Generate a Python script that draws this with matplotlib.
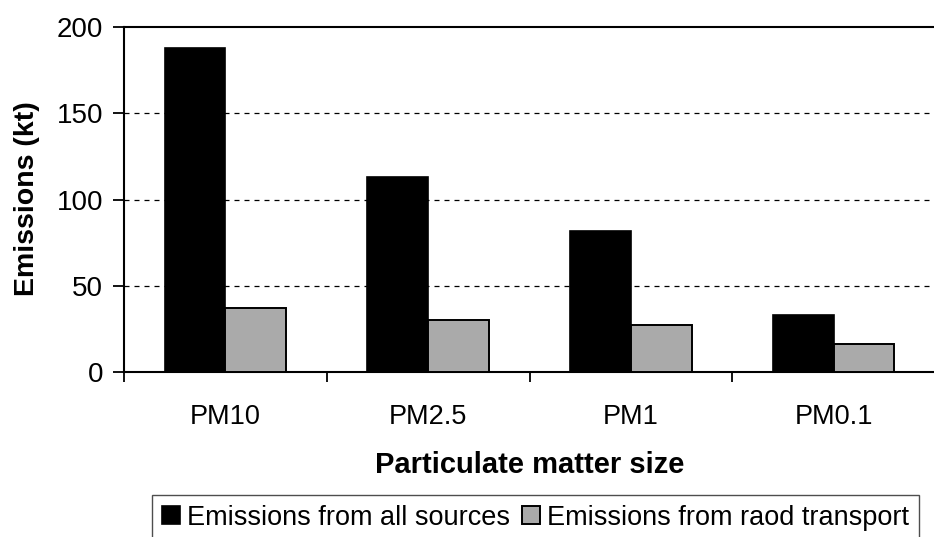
import matplotlib
matplotlib.use("Agg")
import matplotlib.pyplot as plt
import numpy as np

categories = ["PM10", "PM2.5", "PM1", "PM0.1"]
all_sources = [188, 113, 82, 33]
road_transport = [37, 30, 27, 16]
series_names = ["Emissions from all sources", "Emissions from raod transport"]
yticks = [0, 50, 100, 150, 200]

plt.rcParams['font.family'] = ['Liberation Sans', 'DejaVu Sans']

W, H = 934, 537
fig = plt.figure(figsize=(W / 100, H / 100), dpi=100)
ax = fig.add_axes([124 / W, 1 - 372 / H, (935 - 124) / W, (372 - 27) / H])

x = np.arange(len(categories))
w = 0.30
b1 = ax.bar(x - w/2, all_sources, w, color='black', edgecolor='black', linewidth=1.2,
            label=series_names[0], zorder=3)
b2 = ax.bar(x + w/2, road_transport, w, color='#aaaaaa', edgecolor='black', linewidth=1.4,
            label=series_names[1], zorder=3)

ax.set_xlim(-0.5, len(categories) - 0.5)
ax.set_ylim(0, 200)
ax.set_yticks(yticks)
ax.set_yticklabels([str(t) for t in yticks], fontsize=20)
ax.set_xticks(x)
ax.set_xticklabels(categories, fontsize=19.5)
ax.tick_params(axis='x', length=0, pad=23)
ax.set_xticks(np.arange(-0.5, len(categories) + 0.5, 1), minor=True)
ax.tick_params(axis='x', which='minor', length=7, width=1.3, direction='out')
ax.tick_params(axis='y', length=8, width=1.3, direction='out', pad=7)

for v in [50, 100, 150]:
    ax.axhline(v, color='black', linestyle=(0, (4, 4)), linewidth=0.9, zorder=1)

for s in ['left', 'bottom', 'top']:
    ax.spines[s].set_linewidth(1.5)
ax.spines['right'].set_visible(False)

fig.text(27.5 / W, 1 - 198.5 / H, "Emissions (kt)", rotation=90, ha='center', va='center',
         fontsize=20.5, fontweight='bold')
fig.text((124 + 935) / 2 / W, 1 - 473 / H, "Particulate matter size", ha='center',
         va='baseline', fontsize=21, fontweight='bold')

leg = fig.legend(handles=[b1, b2], labels=series_names, loc='upper left',
                 bbox_to_anchor=(152 / W, 1 - 495 / H), borderaxespad=0, ncol=2,
                 fontsize=19.5, frameon=True, fancybox=False, edgecolor='#222222',
                 handlelength=0.67, handleheight=0.64, handletextpad=0.25,
                 columnspacing=0.45, borderpad=0.36)
leg.get_frame().set_linewidth(1.0)

fig.savefig("out.png", dpi=100)
